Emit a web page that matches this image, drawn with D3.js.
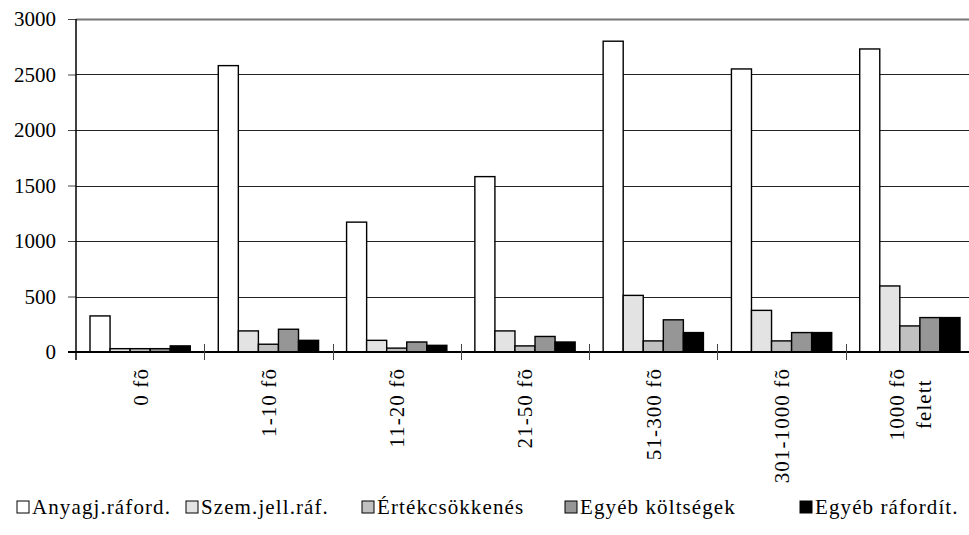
<!DOCTYPE html>
<html>
<head>
<meta charset="utf-8">
<script src="https://cdn.jsdelivr.net/npm/d3@7"></script>
<style>
  body { margin: 0; background: #fff; }
  svg { display: block; }
  svg text { font-family: "Liberation Serif", "Times New Roman", serif; }
</style>
</head>
<body>
<svg width="969" height="535"></svg>
<script>
// categories (company size) and series values
var categories = ["0 fõ", "1-10 fõ", "11-20 fõ", "21-50 fõ", "51-300 fõ", "301-1000 fõ", "1000 fõ\nfelett"];
var seriesNames = ["Anyagj.ráford.", "Szem.jell.ráf.", "Értékcsökkenés", "Egyéb költségek", "Egyéb ráfordít."];
var anyag   = [325, 2580, 1170, 1580, 2800, 2550, 2730];
var szem    = [30, 190, 105, 190, 510, 375, 595];
var ertek   = [30, 70, 35, 55, 100, 100, 235];
var egyebK  = [30, 205, 90, 140, 290, 175, 310];
var egyebR  = [55, 105, 60, 90, 175, 175, 310];
var yTicks  = [0, 500, 1000, 1500, 2000, 2500, 3000];

var seriesValues = [anyag, szem, ertek, egyebK, egyebR];
var colors = ["#ffffff", "#e3e3e3", "#c0c0c0", "#969696", "#000000"];

var svg = d3.select("svg");
var width = +svg.attr("width");

var mLeft = 76, mRight = 974, mTop = 19, mBottom = 352;

var x0 = d3.scaleBand().domain(categories).range([mLeft, mRight]).padding(0);
var x1 = d3.scaleBand().domain(seriesNames)
    .range([14, x0.bandwidth() - 14]).padding(0);
var y = d3.scaleLinear().domain([0, 3000]).range([mBottom, mTop]);

// gridlines
svg.append("g")
  .selectAll("line")
  .data(yTicks.filter(function(d){ return d > 0; }))
  .enter().append("line")
    .attr("x1", mLeft).attr("x2", width)
    .attr("y1", function(d){ return Math.round(y(d)) + 0.5; })
    .attr("y2", function(d){ return Math.round(y(d)) + 0.5; })
    .attr("stroke", function(d){ return d == 3000 ? "#777" : "#222"; })
    .attr("stroke-width", function(d){ return d == 3000 ? 2 : 1; });

// y axis
var yAxis = d3.axisLeft(y).tickValues(yTicks).tickFormat(d3.format("d"))
    .tickSize(8).tickPadding(12);
var ya = svg.append("g")
    .attr("transform", "translate(" + mLeft + ",0)")
    .call(yAxis);
ya.attr("font-family", null).attr("font-size", null);
ya.select(".domain").remove();
ya.selectAll(".tick line").attr("stroke", "#444");
ya.selectAll(".tick text")
    .style("font-size", "21px")
    .attr("fill", "#000");

// bars
var groups = svg.append("g")
  .selectAll("g")
  .data(categories)
  .enter().append("g")
    .attr("transform", function(d){ return "translate(" + x0(d) + ",0)"; });

groups.selectAll("rect")
  .data(function(d, i){
    return seriesNames.map(function(s, j){ return {key: s, idx: j, value: seriesValues[j][i]}; });
  })
  .enter().append("rect")
    .attr("x", function(d){ return x1(d.key); })
    .attr("y", function(d){ return y(d.value); })
    .attr("width", x1.bandwidth())
    .attr("height", function(d){ return mBottom - y(d.value); })
    .attr("fill", function(d){ return colors[d.idx]; })
    .attr("stroke", "#000")
    .attr("stroke-width", 1.4);

// x axis line, vertical axis and category ticks
svg.append("line")
    .attr("x1", mLeft - 8).attr("x2", width)
    .attr("y1", mBottom).attr("y2", mBottom)
    .attr("stroke", "#000").attr("stroke-width", 2);
svg.append("line")
    .attr("x1", mLeft).attr("x2", mLeft)
    .attr("y1", mTop).attr("y2", mBottom + 8)
    .attr("stroke", "#000").attr("stroke-width", 1.5);
svg.append("g")
  .selectAll("line")
  .data(categories.slice(1))
  .enter().append("line")
    .attr("x1", function(d){ return Math.round(x0(d)) + 0.5; })
    .attr("x2", function(d){ return Math.round(x0(d)) + 0.5; })
    .attr("y1", mBottom - 8).attr("y2", mBottom + 8)
    .attr("stroke", "#444");

// rotated category labels
var labels = svg.append("g")
  .selectAll("g")
  .data(categories)
  .enter().append("g")
    .attr("transform", function(d){
      return "translate(" + (x0(d) + x0.bandwidth() / 2) + "," + (mBottom + 16) + ") rotate(-90)";
    });

labels.each(function(d){
  var g = d3.select(this);
  var lines = d.split("\n");
  var lh = 27;
  var t = g.selectAll("text").data(lines).enter().append("text")
      .style("font-size", "21px")
      .attr("letter-spacing", "1.1px")
      .attr("fill", "#000")
      .attr("dy", "0.35em")
      .attr("y", function(l, i){ return (i - (lines.length - 1) / 2) * lh; })
      .text(function(l){ return l; });
  var w = 0;
  t.each(function(){ w = Math.max(w, this.getComputedTextLength()); });
  t.attr("text-anchor", "middle").attr("x", -w / 2);
});

// legend
var legendX = [17, 186, 362, 565, 800];
var legendY = 507;
var legend = svg.append("g")
  .selectAll("g")
  .data(seriesNames)
  .enter().append("g")
    .attr("transform", function(d, i){ return "translate(" + legendX[i] + "," + legendY + ")"; });

legend.append("rect")
    .attr("x", 0).attr("y", -6)
    .attr("width", 12).attr("height", 12)
    .attr("fill", function(d, i){ return colors[i]; })
    .attr("stroke", "#000").attr("stroke-width", 1);

legend.append("text")
    .attr("x", 15)
    .attr("dy", "0.35em")
    .style("font-size", "21px")
    .attr("fill", "#000")
    .attr("letter-spacing", "1.1px")
    .text(function(d){ return d; });
</script>
</body>
</html>
